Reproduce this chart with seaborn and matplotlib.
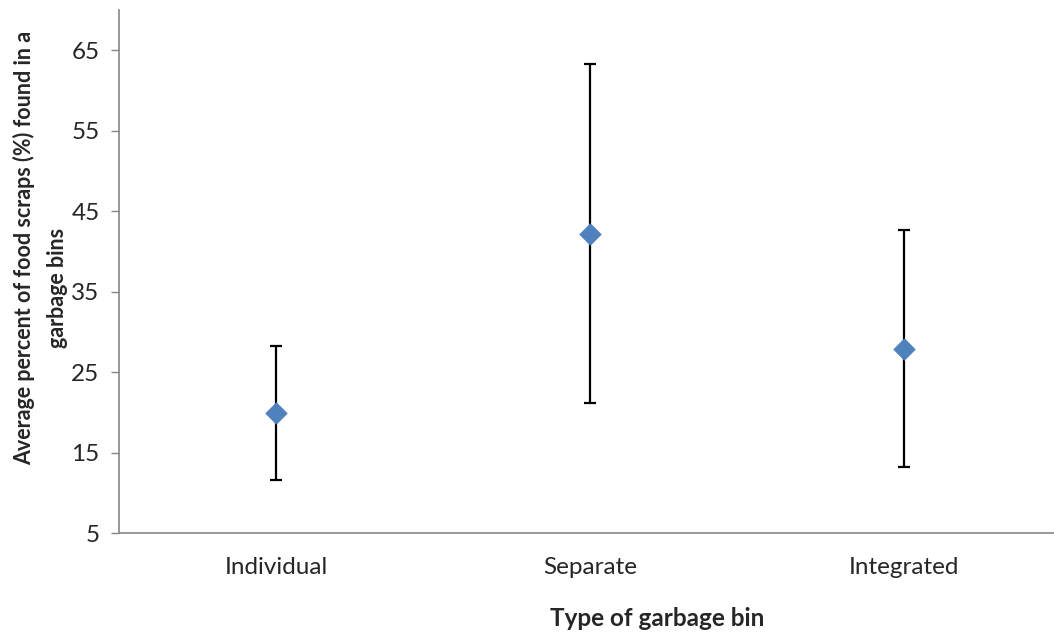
import numpy as np
import pandas as pd
import matplotlib
matplotlib.use("Agg")
import matplotlib.pyplot as plt
import seaborn as sns
from matplotlib.ticker import FixedLocator

# chart data
bin_types = ["Individual", "Separate", "Integrated"]
mean_pct = [19.9, 42.2, 27.9]
err_pct = [8.3, 21.1, 14.7]
y_ticks = [5, 15, 25, 35, 45, 55, 65]

df = pd.DataFrame({"Bin": bin_types, "Mean": mean_pct, "Err": err_pct})

sns.set_style("white")
plt.rcParams["font.family"] = ["Lato", "DejaVu Sans"]

fig = plt.figure(figsize=(10.54, 6.34), dpi=100)
ax = fig.add_axes([119 / 1054, 101 / 634, 942 / 1054, 523 / 634])

# error bars first, markers on top
ax.errorbar(df["Bin"], df["Mean"], yerr=df["Err"], fmt="none",
            ecolor="black", elinewidth=1.6, capsize=4.5, capthick=1.6, zorder=2)
sns.scatterplot(data=df, x="Bin", y="Mean", marker="D", s=120,
                color="#4F81BD", edgecolor="#4F81BD", linewidth=0.5, zorder=3, ax=ax)

ax.set_xlim(-0.5, 2.5)
ax.set_ylim(5, 70)
ax.set_yticks(y_ticks)

# category boundary ticks like in Excel
ax.xaxis.set_minor_locator(FixedLocator([-0.5, 0.5, 1.5, 2.5]))
ax.tick_params(axis="x", which="major", length=0, pad=17, labelsize=17.5)
ax.tick_params(axis="x", which="minor", length=6, width=1, color="#868686", direction="out")
ax.tick_params(axis="y", length=6, width=1, color="#868686", direction="out",
               pad=8, labelsize=17.5, left=True)

sns.despine(ax=ax)
for side in ["left", "bottom"]:
    ax.spines[side].set_color("#868686")
    ax.spines[side].set_linewidth(1.2)

ax.set_xlabel("Type of garbage bin", fontsize=17.5, fontweight="bold")
ax.xaxis.set_label_coords((657 - 119) / 942, (533 - 619) / 523)
ax.xaxis.label.set_va("center")
ax.set_ylabel("")

fig.text(24 / 1054, 1 - 248 / 634, "Average percent of food scraps (%) found in a",
         rotation=90, ha="center", va="center", fontsize=15.5, fontweight="bold")
fig.text(58 / 1054, 1 - 288 / 634, "garbage bins",
         rotation=90, ha="center", va="center", fontsize=15.5, fontweight="bold")

fig.savefig("out.png", dpi=100)
